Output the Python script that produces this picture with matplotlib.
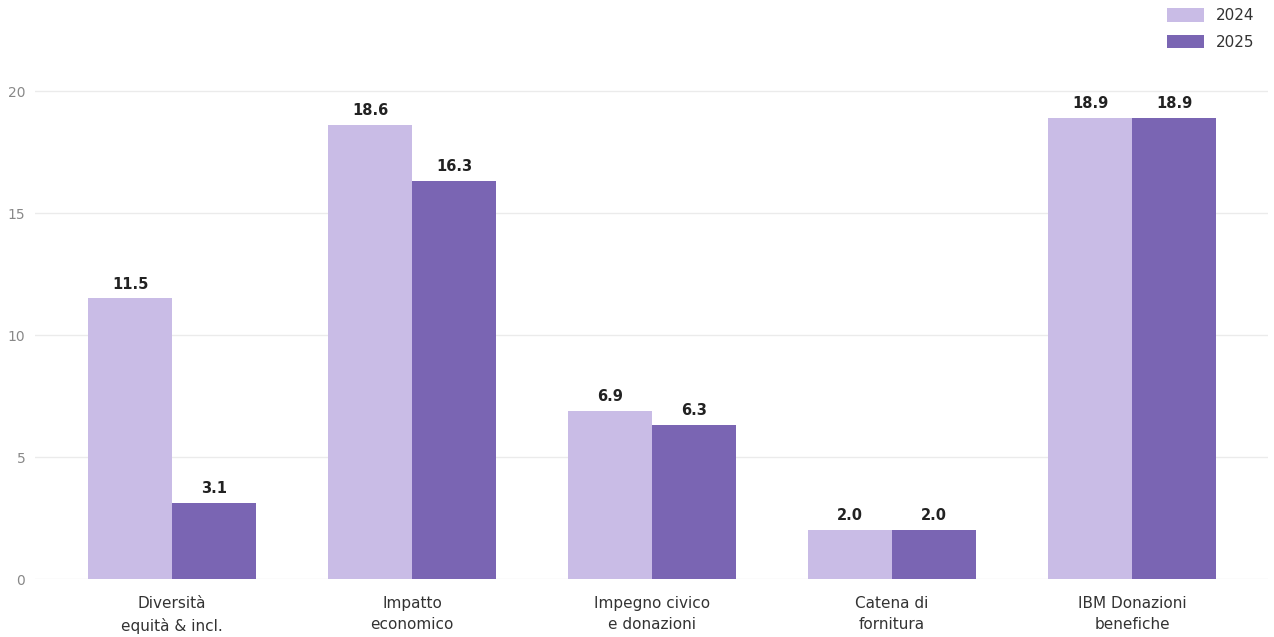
import matplotlib

matplotlib.use("Agg")

import numpy as np
from matplotlib import pyplot as plt

categories = [
    "Diversità\nequità & incl.",
    "Impatto\neconomico",
    "Impegno civico\ne donazioni",
    "Catena di\nfornitura",
    "IBM Donazioni\nbenefiche",
]
values_2024 = [11.5, 18.6, 6.9, 2.0, 18.9]
values_2025 = [3.1, 16.3, 6.3, 2.0, 18.9]
series_labels = ["2024", "2025"]
yticks = [0, 5, 10, 15, 20]

color_2024 = "#c9bce6"
color_2025 = "#7a65b3"

fig = plt.figure(figsize=(12.74, 6.37), dpi=100)
ax = fig.add_axes([0.0275, 0.091, 0.968, 0.812])

x = np.arange(len(categories))
width = 0.35
bars_a = ax.bar(x - width / 2, values_2024, width, color=color_2024, label=series_labels[0], zorder=2)
bars_b = ax.bar(x + width / 2, values_2025, width, color=color_2025, label=series_labels[1], zorder=2)

for bars in (bars_a, bars_b):
    for bar in bars:
        h = bar.get_height()
        ax.annotate(
            f"{h:.1f}",
            (bar.get_x() + bar.get_width() / 2, h),
            xytext=(0, 5),
            textcoords="offset points",
            ha="center",
            va="bottom",
            fontsize=10.5,
            fontweight="bold",
            color="#222222",
        )

ax.set_xlim(-0.571, 4.567)
ax.set_ylim(0, 21.2)
ax.set_yticks(yticks)
ax.set_xticks(x)
ax.set_xticklabels(categories, fontsize=11, color="#333333", linespacing=1.55)
ax.tick_params(axis="y", labelsize=10, labelcolor="#888888", length=0, pad=7)
ax.tick_params(axis="x", length=0, pad=12)
ax.grid(axis="y", color="#ebebeb", linewidth=1, zorder=0)
for spine in ax.spines.values():
    spine.set_visible(False)

ax.legend(
    loc="upper right",
    bbox_to_anchor=(1.0, 1.13),
    frameon=False,
    fontsize=11,
    handlelength=2.4,
    handleheight=1.0,
    labelspacing=0.75,
    labelcolor="#333333",
)

fig.savefig("out.png", dpi=100)
